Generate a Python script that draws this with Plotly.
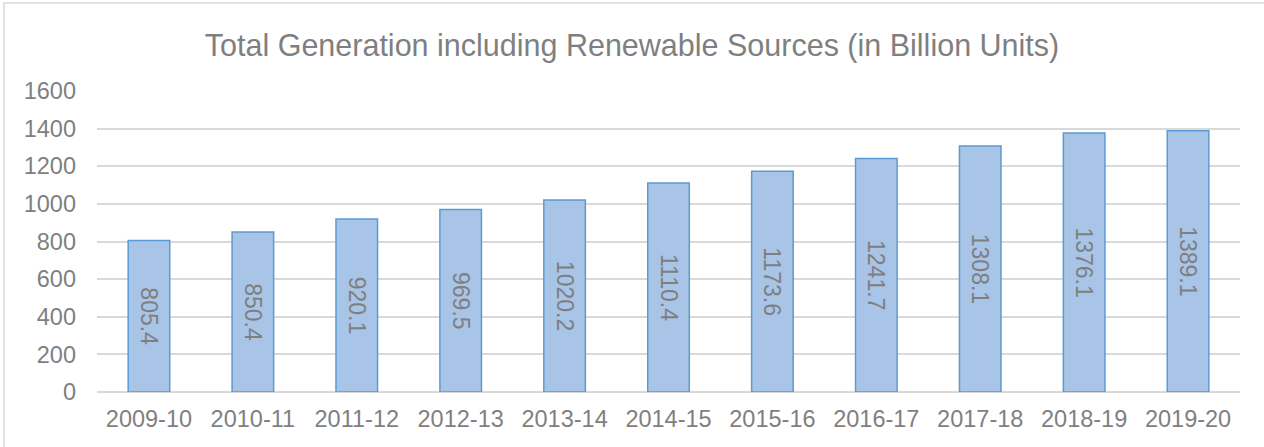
import plotly.graph_objects as go

years = ["2009-10", "2010-11", "2011-12", "2012-13", "2013-14", "2014-15",
         "2015-16", "2016-17", "2017-18", "2018-19", "2019-20"]
generation = [805.4, 850.4, 920.1, 969.5, 1020.2, 1110.4,
              1173.6, 1241.7, 1308.1, 1376.1, 1389.1]
labels = [f"{v:.1f}" for v in generation]

FONT = "Liberation Sans, Arial, sans-serif"
GREY = "#7f7f7f"

fig = go.Figure(go.Bar(
    x=years, y=generation, text=labels,
    textposition="inside", insidetextanchor="middle", textangle=90,
    textfont=dict(family=FONT, size=23, color=GREY),
    marker=dict(color="#a8c4e7", line=dict(color="#5b9bd5", width=1.5)),
    width=0.4,
))

l, r, t, b = 97, 24, 91, 55
W, H = 1264, 447
pw, ph = W - l - r, H - t - b

fig.update_layout(
    width=W, height=H,
    margin=dict(l=l, r=r, t=t, b=b),
    paper_bgcolor="white", plot_bgcolor="white",
    title=dict(text="Total Generation including Renewable Sources (in Billion Units)",
               x=0.5, xanchor="center", y=1 - 45 / H, yanchor="middle",
               font=dict(family=FONT, size=30.5, color=GREY)),
    showlegend=False,
    uniformtext=dict(mode=False),
)
fig.update_xaxes(type="category", showgrid=False, showline=False, ticks="",
                 ticklabelstandoff=10,
                 tickfont=dict(family=FONT, size=23.5, color=GREY))
fig.update_yaxes(range=[0, 1600], dtick=200, showgrid=True, gridcolor="#d9d9d9",
                 gridwidth=1.5, zeroline=True, zerolinecolor="#d9d9d9", zerolinewidth=1.5,
                 showline=False, ticks="", ticklabelstandoff=20,
                 tickfont=dict(family=FONT, size=23.5, color=GREY))

fig.add_shape(type="rect", xref="paper", yref="paper",
              x0=(4 - l) / pw, x1=(1275 - l) / pw,
              y0=-(460 - (H - b)) / ph, y1=1 + (t - 3) / ph,
              line=dict(color="#d9d9d9", width=1.5), fillcolor="rgba(0,0,0,0)", layer="below")

fig.write_html("out.html", config={"displayModeBar": False},
               post_script="document.body.style.margin='0';")
